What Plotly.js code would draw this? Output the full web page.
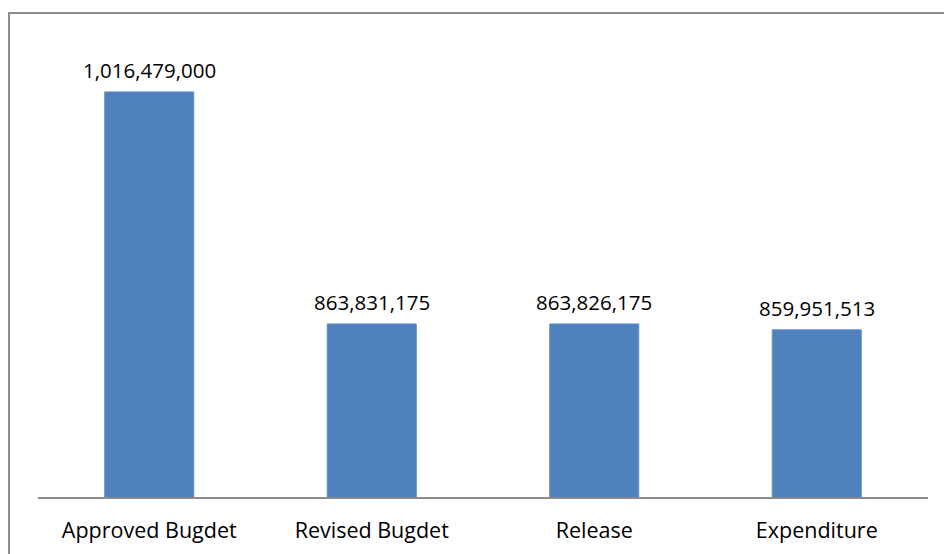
<!DOCTYPE html>
<html>
<head>
<meta charset="utf-8">
<script src="https://cdn.plot.ly/plotly-3.0.1.min.js"></script>
<style>
html,body{margin:0;padding:0;background:#fff;}
#wrap{position:relative;width:944px;height:554px;overflow:hidden;}
#frame{position:absolute;left:8px;top:12px;width:960px;height:600px;border-left:2px solid #8c8c8c;border-top:2px solid #8c8c8c;box-sizing:border-box;pointer-events:none;}
#chart{position:absolute;left:0;top:0;width:944px;height:554px;}
</style>
</head>
<body>
<div id="wrap">
<div id="chart"></div>
<div id="frame"></div>
</div>
<script>
const categories = ["Approved Bugdet", "Revised Bugdet", "Release", "Expenditure"];
const values = [1016479000, 863831175, 863826175, 859951513];
const valueLabels = ["1,016,479,000", "863,831,175", "863,826,175", "859,951,513"];

const valueFont = {family: "Open Sans, sans-serif", size: 20.5, color: "#000"};
const catFont = {family: "Open Sans, sans-serif", size: 21.5, color: "#000"};

const trace = {
  type: "bar",
  x: categories,
  y: values,
  width: 0.4,
  marker: {color: "#4f81bd", line: {color: "#5b8cc8", width: 1}},
  hoverinfo: "none"
};

const annotations = categories.map((c, i) => ({
  x: c, y: values[i], xref: "x", yref: "y",
  text: valueLabels[i], showarrow: false,
  yanchor: "bottom", yshift: 6, font: valueFont
}));

const layout = {
  width: 944, height: 554,
  margin: {l: 38, r: 16, t: 41, b: 57},
  paper_bgcolor: "#fff", plot_bgcolor: "#fff",
  showlegend: false,
  xaxis: {
    type: "category",
    showgrid: false, zeroline: false,
    showline: true, linecolor: "#8c8c8c", linewidth: 2,
    ticks: "", tickfont: catFont, ticklabelstandoff: 13
  },
  yaxis: {
    range: [750000000, 1050000000],
    visible: false, showgrid: false, zeroline: false
  },
  annotations: annotations
};

Plotly.newPlot("chart", [trace], layout, {staticPlot: true, displayModeBar: false});
</script>
</body>
</html>
